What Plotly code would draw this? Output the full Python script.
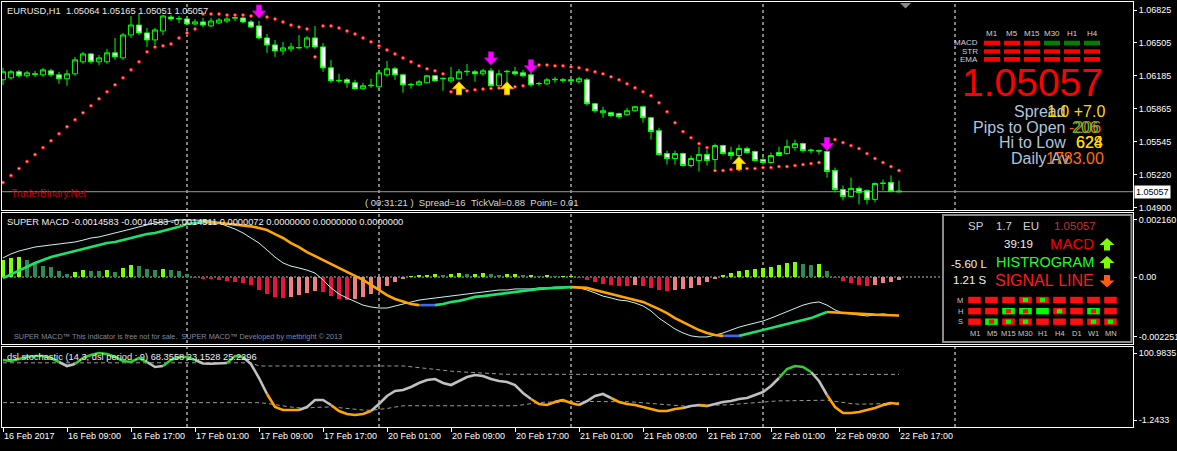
import plotly.graph_objects as go

FONT = "Liberation Sans, Arial, sans-serif"

# ---------------- data ----------------
bar_index = list(range(113))

opens = [
    1.06146, 1.06165, 1.06224, 1.06185, 1.06204, 1.06194, 1.06233, 1.06194, 1.06156, 1.06204,
    1.06321, 1.06398, 1.06321, 1.06321, 1.06408, 1.06359, 1.06582, 1.06679, 1.06602, 1.06534,
    1.06621, 1.06757, 1.06738, 1.06738, 1.06689, 1.06709, 1.06670, 1.06699, 1.06718, 1.06747,
    1.06747, 1.06709, 1.06670, 1.06553, 1.06485, 1.06427, 1.06447, 1.06456, 1.06466, 1.06553,
    1.06466, 1.06262, 1.06136, 1.06146, 1.06117, 1.06059, 1.06088, 1.06078, 1.06194, 1.06253,
    1.06194, 1.06097, 1.06097, 1.06117, 1.06185, 1.06156, 1.06136, 1.06156, 1.06224, 1.06224,
    1.06204, 1.06233, 1.06088, 1.06224, 1.06224, 1.06214, 1.06194, 1.06107, 1.06107, 1.06146,
    1.06146, 1.06146, 1.06127, 1.06146, 1.05913, 1.05826, 1.05826, 1.05816, 1.05806, 1.05845,
    1.05884, 1.05777, 1.05651, 1.05428, 1.05380, 1.05428, 1.05312, 1.05360, 1.05418, 1.05370,
    1.05506, 1.05438, 1.05409, 1.05477, 1.05448, 1.05370, 1.05341, 1.05438, 1.05428, 1.05486,
    1.05525, 1.05457, 1.05457, 1.05448, 1.05263, 1.05079, 1.05011, 1.05089, 1.05069, 1.04982,
    1.05137, 1.05147, 1.05064]
highs = [
    1.06262, 1.06243, 1.06243, 1.06233, 1.06233, 1.06262, 1.06253, 1.06224, 1.06243, 1.06369,
    1.06418, 1.06408, 1.06388, 1.06447, 1.06553, 1.06602, 1.06767, 1.06796, 1.06650, 1.06650,
    1.06776, 1.06776, 1.06767, 1.06747, 1.06738, 1.06747, 1.06747, 1.06747, 1.06757, 1.06757,
    1.06757, 1.06728, 1.06718, 1.06592, 1.06534, 1.06515, 1.06505, 1.06582, 1.06573, 1.06670,
    1.06505, 1.06340, 1.06204, 1.06165, 1.06146, 1.06117, 1.06156, 1.06243, 1.06330, 1.06272,
    1.06204, 1.06117, 1.06146, 1.06194, 1.06194, 1.06165, 1.06272, 1.06253, 1.06301, 1.06243,
    1.06253, 1.06262, 1.06243, 1.06243, 1.06272, 1.06243, 1.06301, 1.06127, 1.06165, 1.06175,
    1.06165, 1.06156, 1.06175, 1.06165, 1.05923, 1.05884, 1.05836, 1.05826, 1.05874, 1.05894,
    1.05894, 1.05787, 1.05680, 1.05457, 1.05457, 1.05438, 1.05409, 1.05496, 1.05467, 1.05525,
    1.05515, 1.05496, 1.05515, 1.05496, 1.05457, 1.05418, 1.05438, 1.05496, 1.05564, 1.05564,
    1.05535, 1.05477, 1.05467, 1.05564, 1.05292, 1.05118, 1.05195, 1.05108, 1.05079, 1.05147,
    1.05176, 1.05215, 1.05165]
lows = [
    1.06097, 1.06146, 1.06165, 1.06165, 1.06175, 1.06175, 1.06175, 1.06107, 1.06088, 1.06185,
    1.06301, 1.06301, 1.06291, 1.06301, 1.06340, 1.06340, 1.06553, 1.06582, 1.06466, 1.06485,
    1.06582, 1.06718, 1.06699, 1.06679, 1.06679, 1.06660, 1.06660, 1.06689, 1.06699, 1.06718,
    1.06699, 1.06650, 1.06544, 1.06408, 1.06369, 1.06388, 1.06418, 1.06447, 1.06447, 1.06447,
    1.06224, 1.06117, 1.06117, 1.06068, 1.06049, 1.06049, 1.06068, 1.06049, 1.06175, 1.06146,
    1.06020, 1.06059, 1.06088, 1.06117, 1.06127, 1.06039, 1.06117, 1.06146, 1.06185, 1.06127,
    1.06185, 1.06078, 1.06068, 1.06097, 1.06185, 1.06175, 1.06078, 1.06088, 1.06097, 1.06117,
    1.06117, 1.06117, 1.06107, 1.05894, 1.05826, 1.05777, 1.05787, 1.05768, 1.05797, 1.05836,
    1.05729, 1.05564, 1.05409, 1.05321, 1.05321, 1.05302, 1.05292, 1.05254, 1.05312, 1.05273,
    1.05418, 1.05370, 1.05370, 1.05428, 1.05351, 1.05321, 1.05331, 1.05399, 1.05418, 1.05457,
    1.05438, 1.05428, 1.05418, 1.05195, 1.05050, 1.04972, 1.05001, 1.04933, 1.04933, 1.04953,
    1.05069, 1.05050, 1.05051]
closes = [
    1.06224, 1.06224, 1.06185, 1.06214, 1.06200, 1.06243, 1.06194, 1.06156, 1.06204, 1.06340,
    1.06398, 1.06321, 1.06359, 1.06408, 1.06369, 1.06582, 1.06679, 1.06602, 1.06534, 1.06631,
    1.06767, 1.06738, 1.06742, 1.06689, 1.06709, 1.06679, 1.06718, 1.06728, 1.06738, 1.06750,
    1.06709, 1.06660, 1.06553, 1.06485, 1.06427, 1.06456, 1.06466, 1.06460, 1.06553, 1.06466,
    1.06262, 1.06136, 1.06140, 1.06117, 1.06059, 1.06088, 1.06092, 1.06214, 1.06253, 1.06194,
    1.06097, 1.06101, 1.06127, 1.06185, 1.06136, 1.06160, 1.06165, 1.06224, 1.06228, 1.06204,
    1.06233, 1.06088, 1.06204, 1.06228, 1.06204, 1.06185, 1.06097, 1.06110, 1.06146, 1.06150,
    1.06142, 1.06136, 1.06156, 1.05913, 1.05845, 1.05845, 1.05797, 1.05787, 1.05845, 1.05884,
    1.05777, 1.05642, 1.05418, 1.05380, 1.05428, 1.05312, 1.05380, 1.05418, 1.05360, 1.05506,
    1.05428, 1.05409, 1.05477, 1.05438, 1.05360, 1.05341, 1.05409, 1.05409, 1.05496, 1.05525,
    1.05457, 1.05461, 1.05453, 1.05254, 1.05079, 1.05011, 1.05089, 1.05050, 1.04982, 1.05137,
    1.05140, 1.05060, 1.05057]
sar_values = [
    1.05147, 1.05215, 1.05283, 1.05351, 1.05418, 1.05486, 1.05554, 1.05622, 1.05690, 1.05758,
    1.05826, 1.05894, 1.05962, 1.06030, 1.06097, 1.06165, 1.06243, 1.06321, 1.06418, 1.06466,
    1.06476, 1.06495, 1.06553, 1.06602, 1.06641, 1.06786, 1.06786, 1.06786, 1.06776, 1.06776,
    1.06776, 1.06767, 1.06767, 1.06757, 1.06738, 1.06709, 1.06679, 1.06660, 1.06641, 1.06369,
    1.06670, 1.06670, 1.06650, 1.06621, 1.06592, 1.06553, 1.06515, 1.06476, 1.06437, 1.06398,
    1.06359, 1.06321, 1.06282, 1.06253, 1.06233, 1.06204, 1.06030, 1.06039, 1.06039, 1.06049,
    1.06056, 1.06062, 1.06066, 1.06074, 1.06078, 1.06088, 1.06310, 1.06291, 1.06291, 1.06282,
    1.06282, 1.06272, 1.06262, 1.06243, 1.06224, 1.06204, 1.06175, 1.06146, 1.06107, 1.06068,
    1.06030, 1.05991, 1.05923, 1.05836, 1.05729, 1.05642, 1.05583, 1.05525, 1.05486, 1.05263,
    1.05263, 1.05273, 1.05273, 1.05283, 1.05283, 1.05292, 1.05292, 1.05302, 1.05302, 1.05312,
    1.05321, 1.05331, 1.05341, 1.05564, 1.05564, 1.05535, 1.05506, 1.05477, 1.05428, 1.05380,
    1.05341, 1.05302, 1.05263]
sell_arrow_bars = [32, 61, 66, 103]
sell_arrow_tips = [1.06747, 1.06291, 1.06214, 1.05457]
buy_arrow_bars = [57, 63, 92]
buy_arrow_tips = [1.06127, 1.06127, 1.05399]
last_price = 1.05057
price_tick_vals = [1.06825, 1.06505, 1.06185, 1.05865, 1.05545, 1.05220, 1.04900]

macd_main = [
    0.00072, 0.00087, 0.00098, 0.00106, 0.00113, 0.00117, 0.00121, 0.00124, 0.00128, 0.00132,
    0.00139, 0.00147, 0.00151, 0.00158, 0.00166, 0.00173, 0.00181, 0.00189, 0.00196, 0.00204,
    0.00207, 0.00211, 0.00215, 0.00215, 0.00215, 0.00214, 0.00211, 0.00204, 0.00192, 0.00181,
    0.00166, 0.00147, 0.00128, 0.00102, 0.00075, 0.00053, 0.00041, 0.00034, 0.00026, 0.00015,
    -0.00011, -0.00041, -0.00064, -0.00079, -0.00094, -0.00106, -0.00113, -0.00117, -0.00117, -0.00109,
    -0.00102, -0.00094, -0.00087, -0.00083, -0.00079, -0.00075, -0.00072, -0.00068, -0.00064, -0.00060,
    -0.00057, -0.00053, -0.00049, -0.00049, -0.00045, -0.00045, -0.00045, -0.00041, -0.00041, -0.00038,
    -0.00038, -0.00038, -0.00041, -0.00049, -0.00060, -0.00072, -0.00079, -0.00087, -0.00090, -0.00098,
    -0.00109, -0.00128, -0.00155, -0.00177, -0.00196, -0.00211, -0.00222, -0.00226, -0.00226, -0.00219,
    -0.00211, -0.00200, -0.00189, -0.00181, -0.00173, -0.00166, -0.00155, -0.00143, -0.00128, -0.00117,
    -0.00106, -0.00098, -0.00094, -0.00106, -0.00124, -0.00136, -0.00139, -0.00143, -0.00147, -0.00143,
    -0.00139, -0.00143, -0.00146]
macd_signal = [
    -0.00004, 0.00011, 0.00026, 0.00041, 0.00053, 0.00064, 0.00075, 0.00083, 0.00090, 0.00098,
    0.00106, 0.00113, 0.00121, 0.00128, 0.00132, 0.00139, 0.00147, 0.00155, 0.00162, 0.00166,
    0.00173, 0.00181, 0.00189, 0.00200, 0.00204, 0.00207, 0.00206, 0.00204, 0.00201, 0.00198,
    0.00195, 0.00191, 0.00185, 0.00177, 0.00162, 0.00147, 0.00128, 0.00113, 0.00094, 0.00079,
    0.00064, 0.00049, 0.00034, 0.00019, 0.00004, -0.00011, -0.00030, -0.00049, -0.00068, -0.00083,
    -0.00094, -0.00102, -0.00106, -0.00106, -0.00106, -0.00102, -0.00094, -0.00090, -0.00083, -0.00075,
    -0.00072, -0.00068, -0.00064, -0.00060, -0.00057, -0.00053, -0.00049, -0.00045, -0.00043, -0.00041,
    -0.00039, -0.00038, -0.00039, -0.00041, -0.00049, -0.00057, -0.00064, -0.00072, -0.00079, -0.00087,
    -0.00094, -0.00106, -0.00121, -0.00136, -0.00155, -0.00170, -0.00185, -0.00200, -0.00211, -0.00219,
    -0.00222, -0.00222, -0.00222, -0.00215, -0.00207, -0.00200, -0.00192, -0.00185, -0.00177, -0.00170,
    -0.00162, -0.00155, -0.00143, -0.00132, -0.00134, -0.00136, -0.00138, -0.00139, -0.00141, -0.00142,
    -0.00143, -0.00144, -0.00145]
macd_hist = [
    0.00064, 0.00073, 0.00074, 0.00064, 0.00058, 0.00041, 0.00037, 0.00023, 0.00011, 0.00020,
    0.00026, 0.00023, 0.00022, 0.00026, 0.00019, 0.00033, 0.00045, 0.00041, 0.00029, 0.00028,
    0.00030, 0.00025, 0.00023, 0.00011, -0.00004, -0.00008, -0.00009, -0.00011, -0.00015, -0.00019,
    -0.00023, -0.00030, -0.00049, -0.00064, -0.00075, -0.00079, -0.00075, -0.00068, -0.00060, -0.00053,
    -0.00057, -0.00072, -0.00083, -0.00087, -0.00083, -0.00075, -0.00064, -0.00049, -0.00034, -0.00019,
    -0.00008, 0.00004, 0.00008, 0.00008, 0.00011, 0.00008, 0.00011, 0.00015, 0.00011, 0.00011,
    0.00015, 0.00011, 0.00008, 0.00011, 0.00011, 0.00008, 0.00008, 0.00004, 0.00008, 0.00004,
    0.00004, 0.00004, -0.00004, -0.00011, -0.00019, -0.00026, -0.00030, -0.00034, -0.00034, -0.00030,
    -0.00034, -0.00041, -0.00049, -0.00053, -0.00049, -0.00045, -0.00041, -0.00030, -0.00019, -0.00008,
    0.00008, 0.00015, 0.00023, 0.00026, 0.00030, 0.00034, 0.00038, 0.00045, 0.00053, 0.00057,
    0.00049, 0.00045, 0.00049, 0.00023, -0.00004, -0.00015, -0.00023, -0.00030, -0.00034, -0.00030,
    -0.00023, -0.00019, -0.00011]
macd_tick_vals = [0.002160, 0.0, -0.002251]
macd_tick_text = ["0.002160", "0.00", "-0.002251"]

stoch_main = [
    90.30, 88.78, 91.83, 94.88, 96.41, 96.41, 93.36, 87.25, 81.15, 84.20,
    93.36, 97.93, 100.98, 99.46, 94.88, 88.78, 87.25, 93.36, 87.25, 79.62,
    81.15, 90.30, 94.88, 94.88, 90.30, 85.00, 84.50, 85.50, 85.80, 96.41,
    94.88, 84.20, 62.84, 38.43, 18.59, 14.02, 14.02, 14.02, 18.59, 29.27,
    29.27, 21.65, 12.49, 7.91, 6.39, 7.91, 12.49, 23.17, 35.38, 43.01,
    44.53, 49.11, 55.21, 59.79, 61.32, 55.21, 52.16, 58.26, 64.37, 67.42,
    65.89, 61.32, 58.26, 56.74, 52.16, 39.96, 30.80, 23.17, 21.65, 26.22,
    29.27, 24.70, 21.65, 27.75, 35.38, 38.43, 32.33, 26.22, 23.17, 21.65,
    18.59, 15.54, 12.49, 12.49, 15.54, 17.07, 20.12, 21.65, 20.12, 23.17,
    26.22, 27.75, 30.80, 32.33, 36.90, 41.48, 50.63, 62.84, 76.57, 81.15,
    79.62, 72.00, 58.26, 36.90, 18.59, 9.44, 9.44, 10.97, 14.02, 17.07,
    21.65, 24.70, 23.1528]
stoch_upper = [
    86.0, 86.0, 86.0, 86.0, 86.0, 86.0, 86.0, 86.0, 86.0, 86.0,
    86.0, 86.0, 86.0, 86.0, 86.0, 86.0, 86.0, 86.0, 86.0, 86.0,
    86.0, 86.0, 86.0, 86.0, 86.0, 86.0, 86.0, 86.0, 86.0, 86.0,
    86.0, 86.0, 81.2, 81.2, 81.2, 81.2, 81.2, 81.2, 81.2, 81.2,
    81.2, 81.2, 81.2, 81.2, 81.2, 81.2, 81.2, 81.2, 81.2, 81.2,
    81.2, 80.0, 78.5, 77.0, 75.6, 74.5, 73.3, 72.4, 71.5, 70.8,
    70.2, 69.6, 69.0, 68.5, 68.4, 68.36, 68.36, 68.36, 68.36, 68.36,
    68.36, 68.36, 68.36, 68.36, 68.36, 68.36, 68.36, 68.36, 68.36, 68.36,
    68.36, 68.36, 68.36, 68.36, 68.36, 68.36, 68.36, 68.36, 68.36, 68.36,
    68.36, 68.36, 68.36, 68.36, 68.36, 68.36, 68.36, 68.36, 68.36, 68.36,
    68.36, 68.36, 68.36, 68.36, 68.36, 68.36, 68.36, 68.36, 68.36, 68.36,
    68.36, 68.36, 68.3558]
stoch_lower = [
    25.23, 25.23, 25.23, 25.23, 25.23, 25.23, 25.23, 25.23, 25.23, 25.23,
    25.23, 25.23, 25.23, 25.23, 25.23, 25.23, 25.23, 25.23, 25.23, 25.23,
    25.23, 25.23, 25.23, 25.23, 25.23, 25.23, 25.23, 25.23, 25.23, 25.23,
    25.23, 25.23, 25.2, 24.0, 22.0, 20.0, 18.5, 17.3, 17.0, 18.0,
    18.8, 18.6, 17.6, 16.3, 15.0, 14.0, 13.6, 14.6, 16.3, 18.5,
    20.5, 20.5, 20.5, 20.5, 20.5, 20.5, 20.5, 20.5, 20.5, 20.5,
    20.5, 20.5, 20.5, 20.5, 20.5, 22.0, 24.0, 25.5, 26.0, 26.5,
    27.0, 27.0, 27.0, 27.0, 27.0, 27.0, 27.3, 27.1, 26.6, 26.0,
    25.0, 23.7, 22.3, 21.2, 20.5, 20.1, 20.1, 20.4, 20.3, 20.6,
    21.3, 22.2, 23.3, 24.3, 25.6, 27.1, 28.0, 28.0, 28.0, 28.0,
    28.0, 28.0, 28.0, 29.0, 27.3, 25.2, 23.8, 22.9, 22.8, 23.3,
    23.8, 24.5, 25.2296]
stoch_tick_vals = [100.9835, -1.2433]
stoch_tick_text = ["100.9835", "-1.2433"]

time_tick_bars = [0, 8, 16, 24, 32, 40, 48, 56, 64, 72, 80, 88, 96, 104, 112]
time_tick_text = ["16 Feb 2017", "16 Feb 09:00", "16 Feb 17:00", "17 Feb 01:00", "17 Feb 09:00",
                  "17 Feb 17:00", "20 Feb 01:00", "20 Feb 09:00", "20 Feb 17:00", "21 Feb 01:00",
                  "21 Feb 09:00", "21 Feb 17:00", "22 Feb 01:00", "22 Feb 09:00", "22 Feb 17:00"]
day_separator_bars = [23, 47, 71, 95, 119]

# dashboard contents
tf_top = ["M1", "M5", "M15", "M30", "H1", "H4"]
tf_rows = ["MACD", "STR", "EMA"]
tf_states = [["dn", "dn", "dn", "up", "up", "up"],
             ["dn", "dn", "dn", "dn", "dn", "dn"],
             ["dn", "dn", "dn", "dn", "dn", "dn"]]
box_tf = ["M1", "M5", "M15", "M30", "H1", "H4", "D1", "W1", "MN"]
box_rows = ["M", "H", "S"]
box_states = [["r", "r", "r", "rg", "rg", "r", "r", "r", "r"],
              ["r", "r", "gr", "gr", "g", "rg", "r", "gr", "r"],
              ["r", "gr", "rg", "rg", "r", "r", "r", "rg", "rg"]]

# ---------------- geometry ----------------
W, H = 1177, 451
ML, MR, MT, MB = 2, 44, 2, 24
PLOT_W = W - ML - MR
PLOT_H = H - MT - MB
PX_PER_BAR = 8.0
PRICE_PER_PX = 0.0000973


def PX(x):
    return (x - ML) / PLOT_W


def PY(y):
    return (H - MB - y) / PLOT_H


main_dom = [PY(210), PY(2)]
macd_dom = [PY(344), PY(212.5)]
stoch_dom = [PY(427), PY(347)]
x_range = [-0.125, -0.125 + PLOT_W / PX_PER_BAR]

fig = go.Figure()

# ---------------- main chart ----------------
fig.add_trace(go.Candlestick(
    x=bar_index, open=opens, high=highs, low=lows, close=closes,
    increasing=dict(line=dict(color="#00ff00", width=1), fillcolor="#000000"),
    decreasing=dict(line=dict(color="#00ff00", width=1), fillcolor="#ffffff"),
    whiskerwidth=0, xaxis="x", yaxis="y", hoverinfo="skip"))
fig.add_trace(go.Scatter(
    x=bar_index, y=sar_values, mode="markers", xaxis="x", yaxis="y",
    marker=dict(size=3, color="#ff9a9a", line=dict(color="#ff0000", width=0.8)),
    hoverinfo="skip"))

# ---------------- MACD ----------------
hist_colors = []
for j, v in enumerate(macd_hist):
    p = macd_hist[j - 1] if j > 0 else v
    if v >= 0:
        hist_colors.append("#7cff00" if v >= p else "#2e8b57")
    else:
        hist_colors.append("#e8143c" if v <= p else "#f08080")
fig.add_trace(go.Bar(x=bar_index, y=macd_hist, width=0.4, xaxis="x2", yaxis="y2",
                     marker=dict(color=hist_colors, line=dict(width=0)), hoverinfo="skip"))
fig.add_trace(go.Scatter(x=bar_index, y=macd_main, mode="lines", xaxis="x2", yaxis="y2",
                         line=dict(color="#c8f4f4", width=1), hoverinfo="skip"))


def seg_series(vals, states, key):
    out = [None] * len(vals)
    for j in range(1, len(vals)):
        if states[j] == key:
            out[j - 1] = vals[j - 1]
            out[j] = vals[j]
    return out


sig_states = ["up"]
for j in range(1, len(macd_signal)):
    d = macd_signal[j] - macd_signal[j - 1]
    sig_states.append("up" if d > 1e-9 else ("dn" if d < -1e-9 else "flat"))
for key, col in [("up", "#19e36b"), ("dn", "#ffa500"), ("flat", "#4169e1")]:
    fig.add_trace(go.Scatter(x=bar_index, y=seg_series(macd_signal, sig_states, key), mode="lines",
                             xaxis="x2", yaxis="y2", line=dict(color=col, width=2.6),
                             connectgaps=False, hoverinfo="skip"))

# ---------------- stochastic ----------------
fig.add_trace(go.Scatter(x=bar_index, y=stoch_upper, mode="lines", xaxis="x3", yaxis="y3",
                         line=dict(color="#9a9a9a", width=1, dash="4px,3px"), hoverinfo="skip"))
fig.add_trace(go.Scatter(x=bar_index, y=stoch_lower, mode="lines", xaxis="x3", yaxis="y3",
                         line=dict(color="#9a9a9a", width=1, dash="4px,3px"), hoverinfo="skip"))
st_states = []
for j, v in enumerate(stoch_main):
    st_states.append("up" if v > stoch_upper[j] else ("dn" if v < stoch_lower[j] else "mid"))
for key, col in [("mid", "#c0c0c0"), ("up", "#32cd32"), ("dn", "#ffa500")]:
    fig.add_trace(go.Scatter(x=bar_index, y=seg_series(stoch_main, st_states, key), mode="lines",
                             xaxis="x3", yaxis="y3", line=dict(color=col, width=2.6),
                             connectgaps=False, hoverinfo="skip"))

# ---------------- shapes ----------------
shapes = []
for b in day_separator_bars:
    shapes.append(dict(type="line", xref="x", yref="paper", x0=b, x1=b, y0=0, y1=1, layer="below",
                       line=dict(color="#ffffff", width=1, dash="3px,3px")))
shapes.append(dict(type="line", xref="paper", yref="y2", x0=0, x1=1, y0=0, y1=0, layer="below",
                   line=dict(color="#bfbfbf", width=1, dash="2px,2px")))
shapes.append(dict(type="line", xref="paper", yref="y", x0=0, x1=1, y0=last_price, y1=last_price,
                   layer="below", line=dict(color="#9a9a9a", width=1)))


def poly(points):
    return "M " + " L ".join(f"{x:.6f},{y:.7f}" for x, y in points) + " Z"


ARROW = [(0, 0), (-6.5, 7), (-2.5, 7), (-2.5, 13), (2.5, 13), (2.5, 7), (6.5, 7)]
for b, tip in zip(sell_arrow_bars, sell_arrow_tips):
    pts = [(b + dx / PX_PER_BAR, tip + dy * PRICE_PER_PX) for dx, dy in ARROW]
    shapes.append(dict(type="path", xref="x", yref="y", path=poly(pts), fillcolor="#ff00ff",
                       line=dict(color="#b000d0", width=1)))
for b, tip in zip(buy_arrow_bars, buy_arrow_tips):
    pts = [(b + dx / PX_PER_BAR, tip - dy * PRICE_PER_PX) for dx, dy in ARROW]
    shapes.append(dict(type="path", xref="x", yref="y", path=poly(pts), fillcolor="#ffee00",
                       line=dict(color="#ff9900", width=1)))

# chart shift marker
shapes.append(dict(type="path", xref="paper", yref="paper",
                   path=poly([(PX(900), PY(3)), (PX(911), PY(3)), (PX(905.5), PY(8.5))]),
                   fillcolor="#8a8a8a", line=dict(width=0)))

# main dashboard cells
row_y = [(40.7, 45.3), (49.3, 53.7), (57.0, 61.7)]
for r, states in enumerate(tf_states):
    for k, s in enumerate(states):
        x0 = 984 + 20 * k
        shapes.append(dict(type="rect", xref="paper", yref="paper", x0=PX(x0), x1=PX(x0 + 16),
                           y0=PY(row_y[r][1]), y1=PY(row_y[r][0]),
                           fillcolor="#ff0000" if s == "dn" else "#008000", line=dict(width=0)))

# MACD dashboard box
shapes.append(dict(type="rect", xref="paper", yref="paper", x0=PX(943), x1=PX(1131.5),
                   y0=PY(342), y1=PY(215), fillcolor="#000000", line=dict(color="#8c8c8c", width=2)))
cell_rows = [300.0, 311.2, 321.7]
for r, states in enumerate(box_states):
    for k, s in enumerate(states):
        cx = 974.5 + 17 * k
        cy = cell_rows[r]
        outer = "#00ff00" if s in ("g", "gr") else "#ff1010"
        shapes.append(dict(type="rect", xref="paper", yref="paper", x0=PX(cx - 6.3), x1=PX(cx + 6.3),
                           y0=PY(cy + 3.2), y1=PY(cy - 3.2), fillcolor=outer, line=dict(width=0)))
        if len(s) == 2:
            inner = "#ff1010" if s == "gr" else "#00ff00"
            shapes.append(dict(type="rect", xref="paper", yref="paper", x0=PX(cx - 2.6), x1=PX(cx + 2.6),
                               y0=PY(cy + 2.1), y1=PY(cy - 2.1), fillcolor=inner, line=dict(width=0)))

BOX_ARROW = [(0, 0), (-7.5, 7), (-3, 7), (-3, 12.5), (3, 12.5), (3, 7), (7.5, 7)]
for tip_y, up, col in [(238, True, "#7cfc00"), (256, True, "#7cfc00"), (287.5, False, "#ff5a14")]:
    pts = [(PX(1107 + dx), PY(tip_y + dy if up else tip_y - dy)) for dx, dy in BOX_ARROW]
    shapes.append(dict(type="path", xref="paper", yref="paper", path=poly(pts),
                       fillcolor=col, line=dict(width=0)))

# ---------------- annotations ----------------
NB = "\u00a0"
ann = []


def txt(x, y, s, size, color, xanchor="left", bg=None):
    d = dict(x=PX(x), y=PY(y), xref="paper", yref="paper", text=s.replace(" ", NB), showarrow=False,
             xanchor=xanchor, yanchor="middle", font=dict(family=FONT, size=size, color=color),
             borderpad=0)
    if bg:
        d["bgcolor"] = bg
        d["borderpad"] = 1
    ann.append(d)


txt(6, 10.5, "EURUSD,H1  1.05064 1.05165 1.05051 1.05057", 9.3, "#e8e8e8")
txt(10, 193.5, "TraderBinary.Net", 10, "#c80000")
txt(364, 202, "( 00:31:21 )  Spread=16  TickVal=0.88  Point= 0.01", 9.5, "#d8d8d8")
txt(6, 221.5, "SUPER MACD -0.0014583 -0.0014583 -0.0014511 0.0000072 0.0000000 0.0000000 0.0000000",
    9.3, "#f0f0f0")
txt(13, 336.5, "SUPER MACD\u2122 This indicator is free not for sale.  SUPER MACD\u2122 Developed by metbright \u00a9 2013",
    7.3, "#7f8aa0")
txt(6, 356.5, "dsl stochastic (14,3, dsl period : 9) 68.3558 23.1528 25.2296", 9.3, "#f0f0f0")
txt(1134, 191.7, "1.05057", 9, "#000000", bg="#ffffff")

# main dashboard text
for k, t in enumerate(tf_top):
    txt(992 + 20 * k, 33, t, 8, "#d0d0d0", xanchor="center")
for r, t in enumerate(tf_rows):
    txt(979, (row_y[r][0] + row_y[r][1]) / 2, t, 8, "#d0d0d0", xanchor="right")
txt(1032, 82, "1.05057", 39, "#ff0000", xanchor="center")
LSB = "#b0c4de"
txt(1067, 112, "Spread", 16, LSB, xanchor="right")
txt(1067, 127.5, "Pips to Open", 16, LSB, xanchor="right")
txt(1067, 142.5, "Hi to Low", 16, LSB, xanchor="right")
txt(1070, 158, "Daily Av", 16, LSB, xanchor="right")
txt(1046, 112, "1.0 +7.0", 16, "#ffd700")
txt(1068, 127.5, "-206", 16, "#ff5a1e")
txt(1071, 127.5, "206", 16, "#3ccc3c")
txt(1075, 142.5, "628", 16, "#ffd700")
txt(1075, 142.5, "624", 16, "#ffd700")
txt(1045, 158, "1783.00", 16, "#ff6a1a")

# MACD dashboard text
txt(967, 226, "SP", 11.5, "#d0d0d0")
txt(995, 226, "1.7", 11.5, "#d0d0d0")
txt(1022, 226, "EU", 11.5, "#d0d0d0")
txt(1053, 226, "1.05057", 11.5, "#c03030")
txt(1003, 244, "39:19", 11.5, "#f0f0f0")
txt(1095, 244, "MACD", 15, "#ff0000", xanchor="right")
txt(1095, 262, "HISTROGRAM", 14.5, "#1eff1e", xanchor="right")
txt(1095, 280.5, "SIGNAL LINE", 16, "#ff1a1a", xanchor="right")
txt(988, 264, "-5.60 L", 11.5, "#f0f0f0", xanchor="right")
txt(988, 280, "1.21 S", 11.5, "#f0f0f0", xanchor="right")
for r, t in enumerate(box_rows):
    txt(960, cell_rows[r], t, 7.5, "#c8c8c8", xanchor="center")
for k, t in enumerate(box_tf):
    txt(974.5 + 17 * k, 333, t, 7.5, "#c8c8c8", xanchor="center")

# ---------------- layout ----------------
axis_common = dict(showline=True, mirror=True, linecolor="#ffffff", linewidth=1, showgrid=False,
                   zeroline=False, color="#ffffff",
                   tickfont=dict(family=FONT, size=9, color="#ffffff"), automargin=False)
xa = dict(axis_common, range=x_range, showticklabels=False, ticks="")

fig.update_layout(
    width=W, height=H, margin=dict(l=ML, r=MR, t=MT, b=MB, pad=0), template="none",
    paper_bgcolor="#000000", plot_bgcolor="#000000", showlegend=False, hovermode=False,
    boxgap=0.2, boxgroupgap=0.2, bargap=0,
    xaxis=dict(xa, domain=[0, 1], anchor="y", rangeslider=dict(visible=False)),
    xaxis2=dict(xa, domain=[0, 1], anchor="y2", matches="x"),
    xaxis3=dict(axis_common, domain=[0, 1], anchor="y3", matches="x", range=x_range,
                tickvals=time_tick_bars, ticktext=time_tick_text, ticks="outside", ticklen=4,
                tickcolor="#ffffff", ticklabelposition="outside right"),
    yaxis=dict(axis_common, domain=main_dom, anchor="x", side="right",
               range=[1.069223 - 210 * PRICE_PER_PX, 1.069223 - 2 * PRICE_PER_PX],
               tickvals=price_tick_vals, ticktext=[f"{v:.5f}" for v in price_tick_vals],
               ticks="outside", ticklen=3, tickcolor="#ffffff"),
    yaxis2=dict(axis_common, domain=macd_dom, anchor="x2", side="right", range=[-0.002526, 0.002432],
                tickvals=macd_tick_vals, ticktext=macd_tick_text, ticks="outside", ticklen=3,
                tickcolor="#ffffff"),
    yaxis3=dict(axis_common, domain=stoch_dom, anchor="x3", side="right", range=[-11.92, 110.14],
                tickvals=stoch_tick_vals, ticktext=stoch_tick_text, ticks="outside", ticklen=3,
                tickcolor="#ffffff"),
    shapes=shapes, annotations=ann,
)

fig.write_html("out.html", config={"displayModeBar": False, "staticPlot": True},
               post_script="document.body.style.margin='0';document.body.style.background='#000';"
                           "document.body.style.overflow='hidden';")
